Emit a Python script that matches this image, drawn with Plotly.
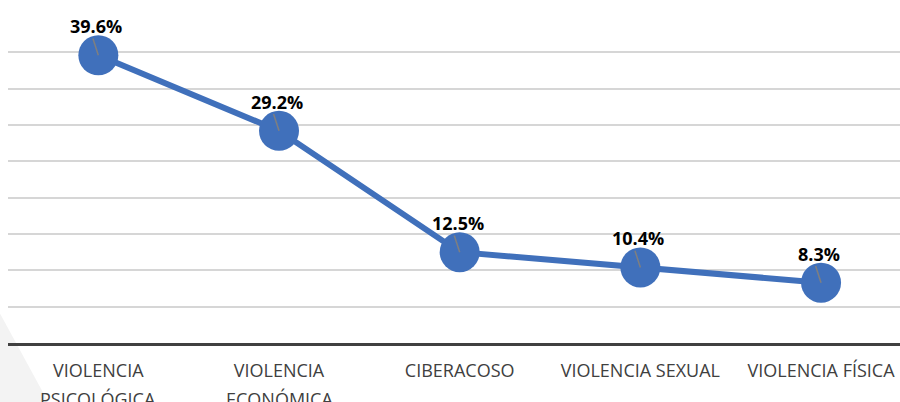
import plotly.graph_objects as go

categories = ["VIOLENCIA<br>PSICOLÓGICA", "VIOLENCIA<br>ECONÓMICA", "CIBERACOSO",
              "VIOLENCIA SEXUAL", "VIOLENCIA FÍSICA"]
values = [39.6, 29.2, 12.5, 10.4, 8.3]
labels = [f"{v:.1f}%" for v in values]

idx = list(range(len(categories)))
first_lines = [c.split("<br>")[0] for c in categories]
second_lines = [c.split("<br>")[1] if "<br>" in c else "" for c in categories]

fig = go.Figure()

fig.add_trace(go.Scatter(
    x=idx, y=values, mode="lines+markers",
    line=dict(color="#4070BB", width=6),
    marker=dict(size=40, color="#4070BB"),
    cliponaxis=False, hoverinfo="skip",
))

# leader lines from label to point
lx, ly = [], []
for i, v in zip(idx, values):
    lx += [i - 0.03, i, None]
    ly += [v + 2.3, v, None]
fig.add_trace(go.Scatter(x=lx, y=ly, mode="lines",
                         line=dict(color="#7f7f7f", width=1.5), hoverinfo="skip"))

for i, v, t in zip(idx, values, labels):
    fig.add_annotation(x=i, y=v, text=t, showarrow=False, yanchor="bottom",
                       yshift=15, xshift=-2,
                       font=dict(family="Open Sans", size=18, color="#000000", weight="bold"))

for i, t in zip(idx, second_lines):
    if t:
        fig.add_annotation(x=i, xref="x", y=-0.17, yref="paper", text=t,
                           showarrow=False, yanchor="middle",
                           font=dict(family="Open Sans", size=18, color="#404040"))

fig.add_shape(type="path", xref="paper", yref="paper",
              path="M -0.01 0.095 L 0.047 -0.19 L -0.01 -0.19 Z",
              fillcolor="#f3f3f3", line=dict(width=0), layer="below")

fig.update_layout(
    width=900, height=402,
    margin=dict(l=8, r=0, t=16, b=59),
    paper_bgcolor="white", plot_bgcolor="white",
    showlegend=False,
    xaxis=dict(
        tickmode="array", tickvals=idx, ticktext=first_lines,
        range=[-0.5, 4.437], automargin=False,
        showgrid=False, zeroline=False,
        showline=True, linecolor="#404040", linewidth=3,
        ticks="outside", ticklen=9, tickcolor="rgba(0,0,0,0)",
        tickfont=dict(family="Open Sans", size=18, color="#404040"),
    ),
    yaxis=dict(
        range=[0, 45], dtick=5, automargin=False,
        showticklabels=False, showgrid=True,
        gridcolor="#d6d6d6", gridwidth=2,
        zeroline=False, showline=False,
    ),
)

fig.write_html("out.html", config={"displayModeBar": False},
               post_script="document.body.style.margin='0';document.body.style.overflow='hidden';")
